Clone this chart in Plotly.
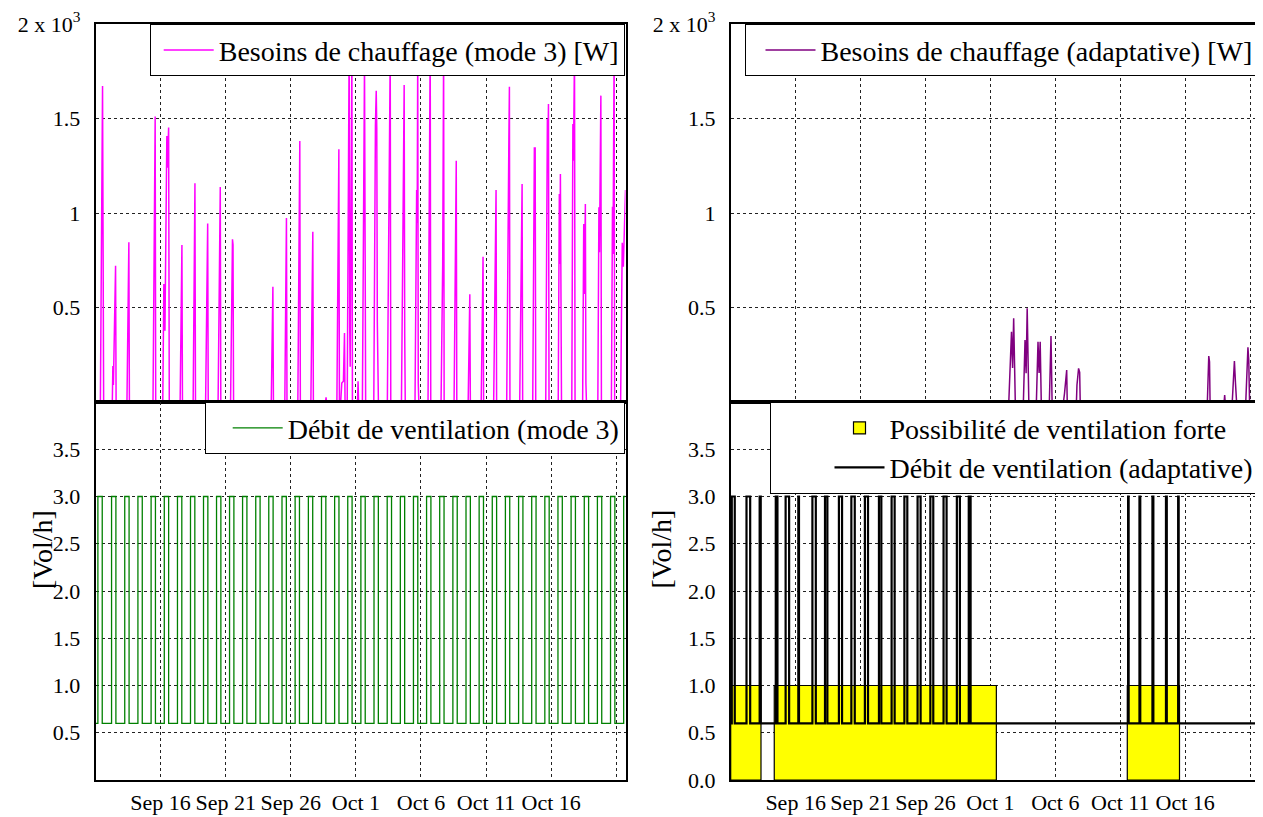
import plotly.graph_objects as go
import pandas as pd

# the page places the figure 8 px from the window's top-left corner
OFF = 8
W, H = 1263 - OFF, 817 - OFF
FONT = "Liberation Serif"

# ---------------- data ----------------
BASE = pd.Timestamp("2011-09-11 00:00")
END_HOUR = 977
TICK_DATES = ["2011-09-16", "2011-09-21", "2011-09-26", "2011-10-01",
              "2011-10-06", "2011-10-11", "2011-10-16"]
TICK_TEXT = ["Sep 16", "Sep 21", "Sep 26", "Oct 1", "Oct 6", "Oct 11", "Oct 16"]
EXTRA_GRID_DATES = ["2011-10-21"]

# heating need, mode 3 (hours since Sep 11 00:00, W)
H3_HOURS = [0, 9, 13, 15, 31, 32, 33, 37, 38, 58, 61.5, 62.5, 106, 110, 111,
            124, 126, 128, 131.5, 132.5, 134.8, 136, 156, 159.3, 160.3,
            180, 183.3, 184.3, 203, 206.8, 207.8, 226, 230, 231,
            249, 252.5, 253.5, 254.5, 324, 327, 328, 349, 352, 353,
            373, 376.6, 377.6, 397, 400.6, 401.6, 424, 425, 426,
            445, 448.6, 449.6, 452, 454, 457, 459, 460,
            464, 467.6, 468.6, 469.5, 472.6, 473.6, 483, 484, 485,
            492, 495.9, 497, 498,
            513, 515, 516, 517.5, 518.5, 519.5, 520.5, 521.5,
            538, 541, 543.3, 544.3,
            564, 566, 567, 568, 569, 570, 571,
            589, 591, 592, 593, 594, 595, 596,
            613, 617, 618, 637, 640, 641.7, 642.7, 661, 665, 666,
            687, 690, 691, 711, 714.4, 715.4, 734, 738.4, 739.4,
            758, 762, 763, 764, 782, 786.4, 787.4, 806, 809, 810.5, 811.5,
            830, 832, 833, 834, 835, 836,
            853, 855, 856, 857, 858, 859,
            878, 880, 881, 883, 884,
            898, 900, 901, 902, 903, 904, 905,
            926, 928, 929, 931.6, 932.6,
            951, 953, 954, 956, 957,
            968, 971, 973, 977]
H3_WATTS = [0, 0, 1672, 0, 0, 190, 90, 721, 0, 0, 845, 0, 0, 1510, 0,
            0, 624, 377, 1407, 1240, 1452, 0, 0, 831, 0,
            0, 1157, 0, 0, 945, 0, 0, 1138, 0,
            0, 861, 832, 0, 0, 610, 0, 0, 973, 0,
            0, 1381, 0, 0, 901, 0, 0, 25, 0,
            0, 1337, 0, 0, 100, 110, 365, 0,
            0, 1900, 400, 187, 1850, 0, 0, 110, 0,
            0, 1800, 354, 0,
            0, 1284, 1463, 1647, 1450, 425, 240, 0,
            0, 1033, 1850, 0,
            0, 656, 1148, 974, 1677, 360, 0,
            0, 660, 1122, 947, 1850, 100, 0,
            0, 1900, 0, 0, 725, 1850, 0, 0, 1277, 0,
            0, 570, 0, 0, 769, 0, 0, 1122, 0,
            0, 1392, 1668, 0, 0, 1153, 0, 0, 1344, 1344, 0,
            0, 1224, 1497, 1356, 1577, 0,
            0, 1100, 730, 1206, 150, 0,
            0, 1471, 1277, 1850, 0,
            0, 942, 571, 748, 1048, 100, 0,
            0, 1030, 792, 1621, 0,
            0, 1033, 783, 1850, 0,
            0, 843, 716, 1122]

# heating need, adaptive
HA_HOURS = [0, 514, 519, 521, 523, 526, 541, 544, 546, 548, 551,
            565, 568, 570, 572, 574, 589, 592, 594,
            615, 617, 621, 622, 639, 640, 643, 645, 646,
            838, 839, 840, 881, 883.6, 885, 886, 912, 913, 914,
            927, 931, 933, 934, 935, 952, 956, 957.5, 959, 977]
HA_WATTS = [0, 0, 372, 180, 443, 0, 0, 328, 152, 496, 0,
            0, 319, 153, 319, 0, 0, 349, 0,
            0, 46, 169, 0, 0, 90, 178, 157, 0,
            0, 10, 0, 0, 243, 213, 0, 0, 37, 0,
            0, 217, 99, 55, 0, 0, 289, 222, 0, 0]

# ventilation, mode 3: hours when the high rate starts / stops
V3_ON = [4.4, 29.6, 53.9, 78.2, 102.5, 126.8, 151.1, 175.1, 199.1, 223.1,
         247.1, 271.1, 295.4, 319.4, 343.8, 368.0, 392.4, 416.6, 440.8, 465.0,
         489.2, 513.4, 537.7, 561.9, 586.1, 610.3, 634.5, 658.8, 683.0, 707.2,
         731.4, 755.6, 779.9, 804.1, 828.3, 852.5, 876.7, 901.0, 925.2, 949.4, 973.6]
V3_OFF = [12.4, 37.6, 61.9, 86.2, 110.5, 134.8, 159.1, 183.1, 207.1, 231.1,
          255.1, 279.1, 303.4, 327.4, 351.8, 376.0, 400.4, 424.6, 448.8, 473.0,
          497.2, 521.4, 545.7, 569.9, 594.1, 618.3, 642.5, 666.8, 691.0, 715.2,
          739.4, 763.6, 787.9, 812.1, 836.3, 860.5, 884.7, 909.0, 933.2, 957.4, 977.0]

# ventilation, adaptive
VA_ON = [2.0, 29.2, 53.5, 83.3, 101.5, 125.0, 151.0, 174.3, 200.0, 223.0, 248.0, 274.0,
         297.4, 321.0, 345.4, 369.0, 393.4, 418.0, 440.0, 734.5, 755.5, 779.5, 804.5, 827.0]
VA_OFF = [7.5, 36.0, 55.5, 86.4, 108.0, 126.2, 157.3, 178.7, 205.8, 229.3, 253.8, 278.4,
          303.0, 326.4, 351.0, 374.4, 399.0, 423.6, 443.4, 735.5, 757.0, 781.2, 806.0, 828.0]

# periods where strong ventilation is possible
POSS_START = [0, 80.5, 733]
POSS_END = [56, 491, 829.5]
POSS_LEVEL = 1.0
VENT_LOW, VENT_HIGH = 0.6, 3.0

Y_TOP_VALS = [500, 1000, 1500, 2000]
Y_TOP_TEXT = ["0.5", "1", "1.5", "2 x 10<sup>3</sup>"]
Y_BL_VALS = [0.5, 1.0, 1.5, 2.0, 2.5, 3.0, 3.5]
Y_BR_VALS = [0.0, 0.5, 1.0, 1.5, 2.0, 2.5, 3.0, 3.5]


# ---------------- helpers ----------------
def t(hours):
    return [BASE + pd.Timedelta(hours=float(h)) for h in hours]


def step_series(on, off):
    xs, ys = [0], [VENT_LOW]
    for a, b in zip(on, off):
        xs += [a, b]
        ys += [VENT_HIGH, VENT_LOW if b < END_HOUR else VENT_HIGH]
    if xs[-1] < END_HOUR:
        xs.append(END_HOUR)
        ys.append(ys[-1])
    return t(xs), ys


def px(sx):   # window x pixel -> paper fraction
    return (sx - OFF) / W


def py(sy):   # window y pixel -> paper fraction
    return 1 - (sy - OFF) / H


X_RANGE = [BASE, BASE + pd.Timedelta(hours=END_HOUR)]

fig = go.Figure()

fig.add_trace(go.Scatter(x=t(H3_HOURS), y=H3_WATTS, mode="lines",
                         line=dict(color="#ff00ff", width=1.5),
                         name="Besoins de chauffage (mode 3) [W]",
                         xaxis="x", yaxis="y", legend="legend"))
vx, vy = step_series(V3_ON, V3_OFF)
fig.add_trace(go.Scatter(x=vx, y=vy, mode="lines", line_shape="hv",
                         line=dict(color="#008000", width=1.3),
                         name="Débit de ventilation (mode 3)",
                         xaxis="x2", yaxis="y2", legend="legend2"))
fig.add_trace(go.Scatter(x=t(HA_HOURS), y=HA_WATTS, mode="lines",
                         line=dict(color="#800080", width=1.5),
                         name="Besoins de chauffage (adaptative) [W]",
                         xaxis="x3", yaxis="y3", legend="legend3"))
centers = [(a + b) / 2 for a, b in zip(POSS_START, POSS_END)]
widths = [(b - a) * 3600 * 1000 for a, b in zip(POSS_START, POSS_END)]
fig.add_trace(go.Bar(x=t(centers), y=[POSS_LEVEL] * len(centers), width=widths,
                     marker=dict(color="#ffff00", line=dict(color="black", width=1.2)),
                     name="Possibilité de ventilation forte",
                     xaxis="x4", yaxis="y4", legend="legend4"))
ax, ay = step_series(VA_ON, VA_OFF)
fig.add_trace(go.Scatter(x=ax, y=ay, mode="lines", line_shape="hv",
                         line=dict(color="black", width=2.2),
                         name="Débit de ventilation (adaptative)",
                         xaxis="x4", yaxis="y4", legend="legend4"))

LX = [px(95.5), px(625.5)]
RX = [px(730.7), px(1259.3)]
TY = [py(402), py(24)]
BY = [py(780), py(402)]

GRID_COLOR = "#222"
GRID_DASH = "3px,3px"
grid = dict(showgrid=True, gridcolor=GRID_COLOR, gridwidth=1, griddash=GRID_DASH,
            showline=True, linecolor="black", linewidth=1.5, mirror=True,
            zeroline=False, ticks="", automargin=False,
            tickfont=dict(family=FONT, size=22, color="black"))


def xax(domain, anchor, labels):
    return dict(grid, domain=domain, anchor=anchor, type="date", range=X_RANGE,
                tickmode="array", tickvals=TICK_DATES, ticktext=TICK_TEXT,
                showticklabels=labels, ticklabelstandoff=2,
                minor=dict(tickmode="array", tickvals=EXTRA_GRID_DATES, showgrid=True,
                           gridcolor=GRID_COLOR, gridwidth=1, griddash=GRID_DASH, ticks=""))


def yax(domain, anchor, rng, vals, text):
    return dict(grid, domain=domain, anchor=anchor, range=rng, tickmode="array",
                tickvals=vals, ticktext=text, ticklabelstandoff=9)


leg = dict(bgcolor="white", bordercolor="black", borderwidth=1.2,
           font=dict(family=FONT, size=28, color="black"), xanchor="right",
           yanchor="top", itemwidth=50, indentation=8)

fig.update_layout(
    width=W, height=H, margin=dict(l=0, r=0, t=0, b=0, autoexpand=False),
    paper_bgcolor="white", plot_bgcolor="white", showlegend=True,
    xaxis=xax(LX, "y", False),
    xaxis2=xax(LX, "y2", True),
    xaxis3=xax(RX, "y3", False),
    xaxis4=xax(RX, "y4", True),
    yaxis=yax(TY, "x", [0, 2000], Y_TOP_VALS, Y_TOP_TEXT),
    yaxis2=yax(BY, "x2", [0, 4], Y_BL_VALS, [f"{v:.1f}" for v in Y_BL_VALS]),
    yaxis3=yax(TY, "x3", [0, 2000], Y_TOP_VALS, Y_TOP_TEXT),
    yaxis4=yax(BY, "x4", [0, 4], Y_BR_VALS, [f"{v:.1f}" for v in Y_BR_VALS]),
    legend=dict(leg, x=LX[1], y=TY[1]),
    legend2=dict(leg, x=LX[1], y=BY[1], indentation=22),
    legend3=dict(leg, x=RX[1], y=TY[1], indentation=14),
    legend4=dict(leg, x=RX[1], y=BY[1], indentation=58),
    annotations=[
        dict(text="[Vol/h]", x=px(25), y=(BY[0] + BY[1]) / 2, xref="paper", yref="paper",
             textangle=-90, showarrow=False, font=dict(family=FONT, size=28, color="black")),
        dict(text="[Vol/h]", x=px(661), y=(BY[0] + BY[1]) / 2, xref="paper", yref="paper",
             textangle=-90, showarrow=False, font=dict(family=FONT, size=28, color="black")),
    ],
)

fig.write_html("out.html")
